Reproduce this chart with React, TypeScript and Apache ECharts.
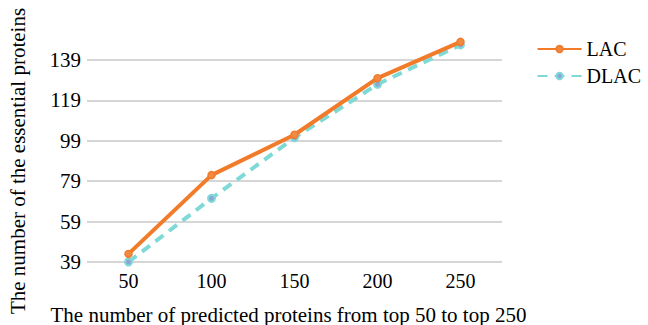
import React, { useEffect, useRef } from "react";
import * as echarts from "echarts";

const categories = ["50", "100", "150", "200", "250"];
const lacValues = [43, 82, 102, 130, 148];
const dlacValues = [39, 70.5, 100.5, 127, 146.5];
const yMin = 39;
const yMax = 139;
const yInterval = 20;

export default function App() {
  const ref = useRef<HTMLDivElement>(null);
  useEffect(() => {
    const chart = echarts.init(ref.current!, null, { renderer: "svg" });
    const font = "Liberation Serif";
    const txt = { fontFamily: font, fontSize: 20, color: "#000" };
    chart.setOption({
      animation: false,
      textStyle: { fontFamily: font },
      grid: { left: 87, right: 146, top: 60, bottom: 63, outerBoundsMode: "none", containLabel: false },
      legend: {
        right: 2,
        top: 34,
        orient: "vertical",
        itemWidth: 44,
        itemHeight: 8,
        itemGap: 7,
        textStyle: txt,
        data: ["LAC", "DLAC"],
      },
      xAxis: {
        type: "category",
        data: categories,
        boundaryGap: true,
        axisLine: { show: false },
        axisTick: { show: false },
        axisLabel: { ...txt, margin: 9 },
        name: "The number of predicted proteins from top 50 to top 250",
        nameLocation: "middle",
        nameGap: 42,
        nameTextStyle: { ...txt, fontSize: 21, padding: [0, 12, 0, 0] },
      },
      yAxis: {
        type: "value",
        min: yMin,
        max: yMax,
        interval: yInterval,
        axisLine: { show: false },
        axisTick: { show: false },
        splitLine: { lineStyle: { color: "#c8c8c8", width: 1.5 } },
        axisLabel: { ...txt, fontSize: 21, margin: 6 },
        name: "The number of the essential proteins",
        nameLocation: "middle",
        nameGap: 59,
        nameTextStyle: { ...txt, fontSize: 21 },
      },
      series: [
        {
          name: "LAC",
          type: "line",
          data: lacValues,
          clip: false,
          symbol: "circle",
          symbolSize: 7,
          lineStyle: { color: "#f27b2a", width: 4 },
          itemStyle: { color: "#f08a45", borderColor: "#f27b2a", borderWidth: 1.5 },
          z: 3,
        },
        {
          name: "DLAC",
          type: "line",
          data: dlacValues,
          clip: false,
          symbol: "circle",
          symbolSize: 7,
          lineStyle: { color: "#7fd9d6", width: 4, type: [10, 7] },
          itemStyle: { color: "#8ea6d6", borderColor: "#7fd9d6", borderWidth: 2 },
          z: 2,
        },
      ],
    });
    return () => chart.dispose();
  }, []);
  return <div ref={ref} style={{ width: 648, height: 325, position: "absolute", left: 0, top: 0 }} />;
}
